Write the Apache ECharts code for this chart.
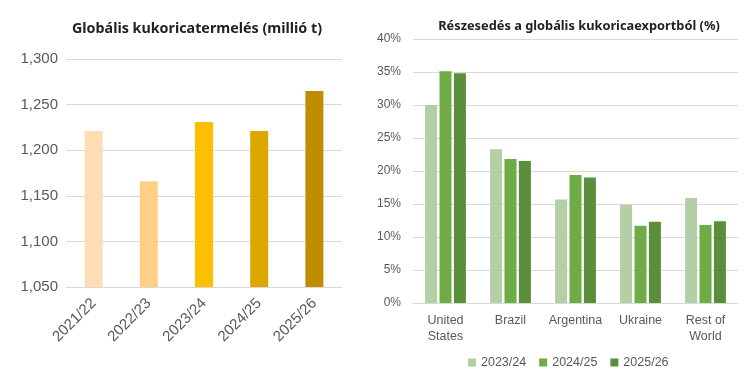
<!DOCTYPE html>
<html><head><meta charset="utf-8">
<script src="https://cdn.jsdelivr.net/npm/echarts@6/dist/echarts.min.js"></script>
<style>html,body{margin:0;padding:0;background:#fff}#c{width:750px;height:384px}</style>
</head><body><div id="c"></div>
<script>
const prodYears = ['2021/22','2022/23','2023/24','2024/25','2025/26'];
const prodValues = [1221, 1166, 1231, 1221, 1265];
const prodColors = ['#FDDDB4','#FECF84','#FDC000','#DCA800','#BE8E00'];
const yTicksLeft = [1050, 1300, 50];

const countries = ['United\nStates','Brazil','Argentina','Ukraine','Rest of\nWorld'];
const shareSeriesNames = ['2023/24','2024/25','2025/26'];
const share2324 = [30.0, 23.3, 15.7, 14.9, 15.9];
const share2425 = [35.1, 21.8, 19.4, 11.7, 11.8];
const share2526 = [34.8, 21.5, 19.0, 12.3, 12.4];
const shareColors = ['#B4CEA5','#6FAC46','#5A8E3A'];

const chart = echarts.init(document.getElementById('c'), null, {renderer:'canvas'});
const lblColor = '#595959';
const font = 'Liberation Sans, Arial, sans-serif';
chart.setOption({
  animation:false,
  textStyle:{fontFamily:font},
  title:[
    {text:'Globális kukoricatermelés (millió t)', left:192, top:17, textAlign:'center',
     textStyle:{fontFamily:'Noto Sans',fontWeight:'bold',fontSize:14.3,color:'#222'}},
    {text:'Részesedés a globális kukoricaexportból (%)', left:574, top:15, textAlign:'center',
     textStyle:{fontFamily:'Noto Sans',fontWeight:'bold',fontSize:12.8,color:'#222'}}
  ],
  legend:{data:shareSeriesNames, left:468, top:356, width:270, itemWidth:8, itemHeight:8, itemGap:13,
    icon:'rect', textStyle:{color:lblColor,fontSize:12.5,fontFamily:font}, padding:0},
  grid:[
    {left:66, width:276, top:59, height:228},
    {left:413, width:325, top:39, height:264}
  ],
  xAxis:[
    {type:'category', gridIndex:0, data:prodYears,
     axisLine:{lineStyle:{color:'#d9d9d9'}}, axisTick:{show:false},
     axisLabel:{rotate:45, color:lblColor, fontSize:15, margin:14, fontFamily:font, interval:0}},
    {type:'category', gridIndex:1, data:countries,
     axisLine:{lineStyle:{color:'#d9d9d9'}}, axisTick:{show:false},
     axisLabel:{color:lblColor, fontSize:12.5, margin:10, lineHeight:16, fontFamily:font, interval:0}}
  ],
  yAxis:[
    {type:'value', gridIndex:0, min:yTicksLeft[0], max:yTicksLeft[1], interval:yTicksLeft[2],
     axisLabel:{color:lblColor, fontSize:15, margin:8,
       formatter:v=>v.toLocaleString('en-US')},
     splitLine:{lineStyle:{color:'#d9d9d9'}}, axisLine:{show:false}, axisTick:{show:false}},
    {type:'value', gridIndex:1, min:0, max:40, interval:5,
     axisLabel:{color:lblColor, fontSize:12, margin:12, formatter:v=>v+'%'},
     splitLine:{lineStyle:{color:'#d9d9d9'}}, axisLine:{show:false}, axisTick:{show:false}}
  ],
  series:[
    {type:'bar', xAxisIndex:0, yAxisIndex:0, barWidth:18,
     data:prodValues.map((v,i)=>({value:v, itemStyle:{color:prodColors[i]}}))},
    {name:shareSeriesNames[0], type:'bar', xAxisIndex:1, yAxisIndex:1, data:share2324,
     barWidth:12, barGap:'20%', itemStyle:{color:shareColors[0]}},
    {name:shareSeriesNames[1], type:'bar', xAxisIndex:1, yAxisIndex:1, data:share2425,
     barWidth:12, barGap:'20%', itemStyle:{color:shareColors[1]}},
    {name:shareSeriesNames[2], type:'bar', xAxisIndex:1, yAxisIndex:1, data:share2526,
     barWidth:12, barGap:'20%', itemStyle:{color:shareColors[2]}}
  ]
});
</script></body></html>
